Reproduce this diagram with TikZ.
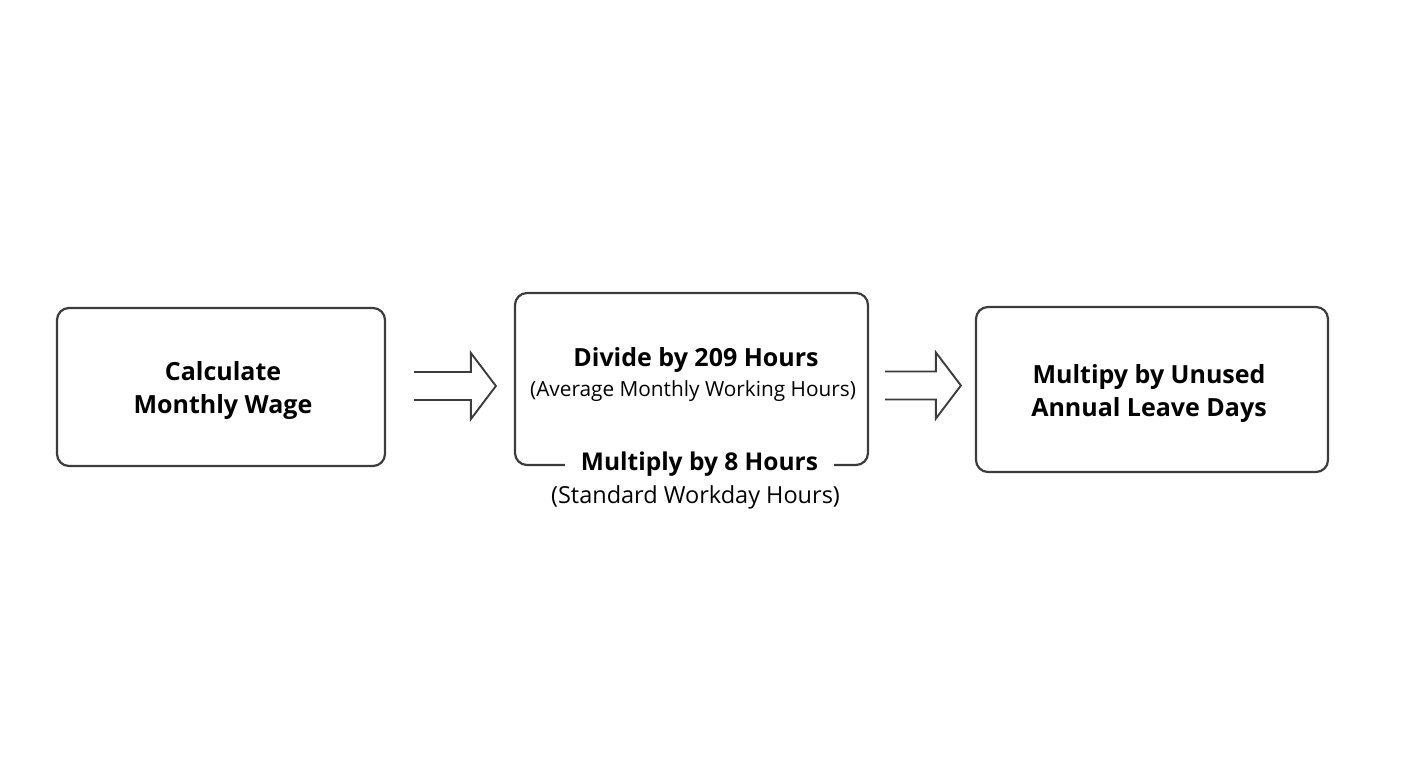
\documentclass[tikz,border=0pt]{standalone}
\usepackage{fontspec}
\setmainfont{Open Sans}
\usepackage{xcolor}
\usetikzlibrary{calc,positioning}

\definecolor{edge}{HTML}{3C3C3C}

\newcommand{\hollowarrow}[2]{%
  \draw[arrowline] ($(#1)+(0,-14)$) -- ($(#2)+(-25,-14)$) -- ($(#2)+(-25,-33)$)
    -- (#2) -- ($(#2)+(-25,33)$) -- ($(#2)+(-25,14)$) -- ($(#1)+(0,14)$);}

\begin{document}
\begin{tikzpicture}
[x = 1pt, y = -1pt,
 stepbox/.style = {draw = edge, line width = 2.2pt, rounded corners = 12pt,
   inner sep = 0pt},
 headtext/.style = {align = center, text = black, font = \bfseries\fontsize{25}{33}\selectfont},
 subtext/.style = {align = center, text = black, font = \fontsize{20.8}{24}\selectfont},
 arrowline/.style = {draw = edge, line width = 1.9pt, line join = miter}]

\useasboundingbox (0,0) rectangle (1408,768);

\node (wage) [stepbox, minimum width = 328pt, minimum height = 158pt] at (221,387) {};
\node (wageT) [headtext] at ($(wage.center)+(2,4)$) {Calculate\\Monthly Wage};

\node (divide) [stepbox, minimum width = 353pt, minimum height = 172pt] at (691.5,379) {};
\node (divideT) [headtext] at (696,360) {Divide by 209 Hours};
\node (divideS) [subtext] at (693,391) {(Average Monthly Working Hours)};
\node (mult) [headtext, fill = white, inner xsep = 16pt, inner ysep = 2pt,
  font = \bfseries\fontsize{24.5}{30}\selectfont]
  at ($(divide.south)+(8,-2)$) {Multiply by 8 Hours};
\node (multS) [subtext, font = \fontsize{23.5}{26}\selectfont] at ($(mult.center)+(-4,33)$) {(Standard Workday Hours)};

\node (leave) [stepbox, minimum width = 352pt, minimum height = 165pt] at (1152,389.5) {};
\node (leaveT) [headtext] at ($(leave.center)+(-3,4)$) {Multipy by Unused\\Annual Leave Days};

\coordinate (a1s) at ($(wage.east)+(28,-1)$);
\coordinate (a1e) at ($(a1s -| divide.west)+(-18,0)$);
\coordinate (a2s) at ($(divide.east)+(16,6.5)$);
\coordinate (a2e) at ($(a2s -| leave.west)+(-14,0)$);

\hollowarrow{a1s}{a1e}
\hollowarrow{a2s}{a2e}

\end{tikzpicture}
\end{document}
